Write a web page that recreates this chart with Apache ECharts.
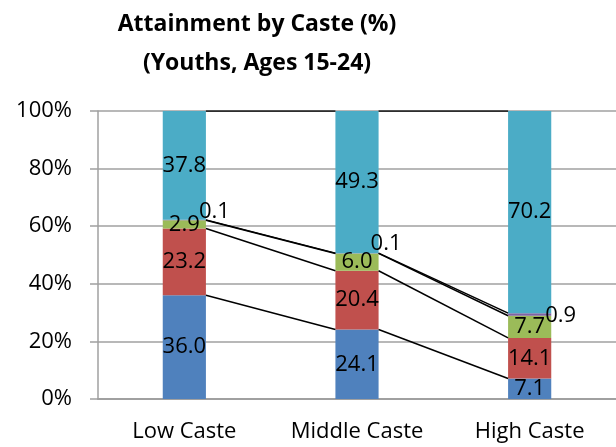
<!DOCTYPE html>
<html>
<head>
<meta charset="utf-8">
<script src="https://cdn.jsdelivr.net/npm/echarts@6/dist/echarts.min.js"></script>
<style>html,body{margin:0;padding:0;background:#fff}#c{width:616px;height:447px}</style>
</head>
<body>
<div id="c"></div>
<script>
var categories = ['Low Caste', 'Middle Caste', 'High Caste'];
var seriesNames = ['Blue', 'Red', 'Green', 'Purple', 'Cyan'];
var blueVals = [36.0, 24.1, 7.1];
var redVals = [23.2, 20.4, 14.1];
var greenVals = [2.9, 6.0, 7.7];
var purpleVals = [0.1, 0.1, 0.9];
var cyanVals = [37.8, 49.3, 70.2];
var yTicks = [0, 20, 40, 60, 80, 100];

var colors = ['#4F81BD', '#C0504D', '#9BBB59', '#8064A2', '#4BACC6'];
var allVals = [blueVals, redVals, greenVals, purpleVals, cyanVals];
var purpleLabelOffsets = [[-7, -8], [-8, -10], [-6, 1]];

var totals = categories.map(function (c, i) {
  return allVals.reduce(function (s, a) { return s + a[i]; }, 0);
});
function pct(v, i) { return v / totals[i] * 100; }

var font = 'Open Sans';
var series = [];
allVals.forEach(function (arr, si) {
  series.push({
    name: seriesNames[si],
    type: 'bar',
    stack: 'all',
    barWidth: '25%',
    itemStyle: { color: colors[si] },
    z: 2,
    data: arr.map(function (v, i) {
      var d = { value: pct(v, i), raw: v };
      if (si === 3) {
        d.label = { position: 'right', distance: 0, offset: purpleLabelOffsets[i] };
      }
      return d;
    }),
    label: {
      show: true,
      position: 'inside',
      color: '#000',
      fontFamily: font,
      fontSize: 22,
      formatter: function (p) { return p.data.raw.toFixed(1); }
    }
  });
});

// series lines connecting segment tops between adjacent bars
var half = 0.125;
allVals.forEach(function (arr, si) {
  var tops = categories.map(function (c, i) {
    var s = 0;
    for (var k = 0; k <= si; k++) s += pct(allVals[k][i], i);
    return s;
  });
  for (var i = 0; i < categories.length - 1; i++) {
    series.push({
      type: 'line',
      xAxisIndex: 1,
      symbol: 'none',
      silent: true,
      z: 3,
      lineStyle: { color: '#000', width: 1.5 },
      data: [[i + 0.5 + half, tops[i]], [i + 1.5 - half, tops[i + 1]]]
    });
  }
});

var chart = echarts.init(document.getElementById('c'), null, { renderer: 'canvas' });
chart.setOption({
  animation: false,
  title: {
    text: 'Attainment by Caste (%)\n(Youths, Ages 15-24)',
    left: 252,
    top: 0,
    textAlign: 'center',
    textStyle: { fontFamily: font, fontWeight: 'bold', fontSize: 23, lineHeight: 39, color: '#000' }
  },
  grid: { left: 98, right: 0, top: 111, height: 288 },
  xAxis: [{
    type: 'category',
    data: categories,
    axisLine: { lineStyle: { color: '#a0a0a0', width: 2 } },
    axisTick: { show: false },
    axisLabel: { color: '#000', fontFamily: font, fontSize: 22, margin: 22 }
  }, {
    type: 'value', min: 0, max: 3, show: false
  }],
  yAxis: {
    type: 'value',
    min: yTicks[0],
    max: yTicks[yTicks.length - 1],
    interval: yTicks[1] - yTicks[0],
    axisLine: { show: true, lineStyle: { color: '#a0a0a0', width: 1.5 } },
    axisTick: { show: true, length: 8, lineStyle: { color: '#a0a0a0', width: 1.5 } },
    splitLine: { lineStyle: { color: '#a0a0a0', width: 1.5 } },
    axisLabel: { color: '#000', fontFamily: font, fontSize: 22, margin: 26, formatter: '{value}%' }
  },
  series: series
});
</script>
</body>
</html>
